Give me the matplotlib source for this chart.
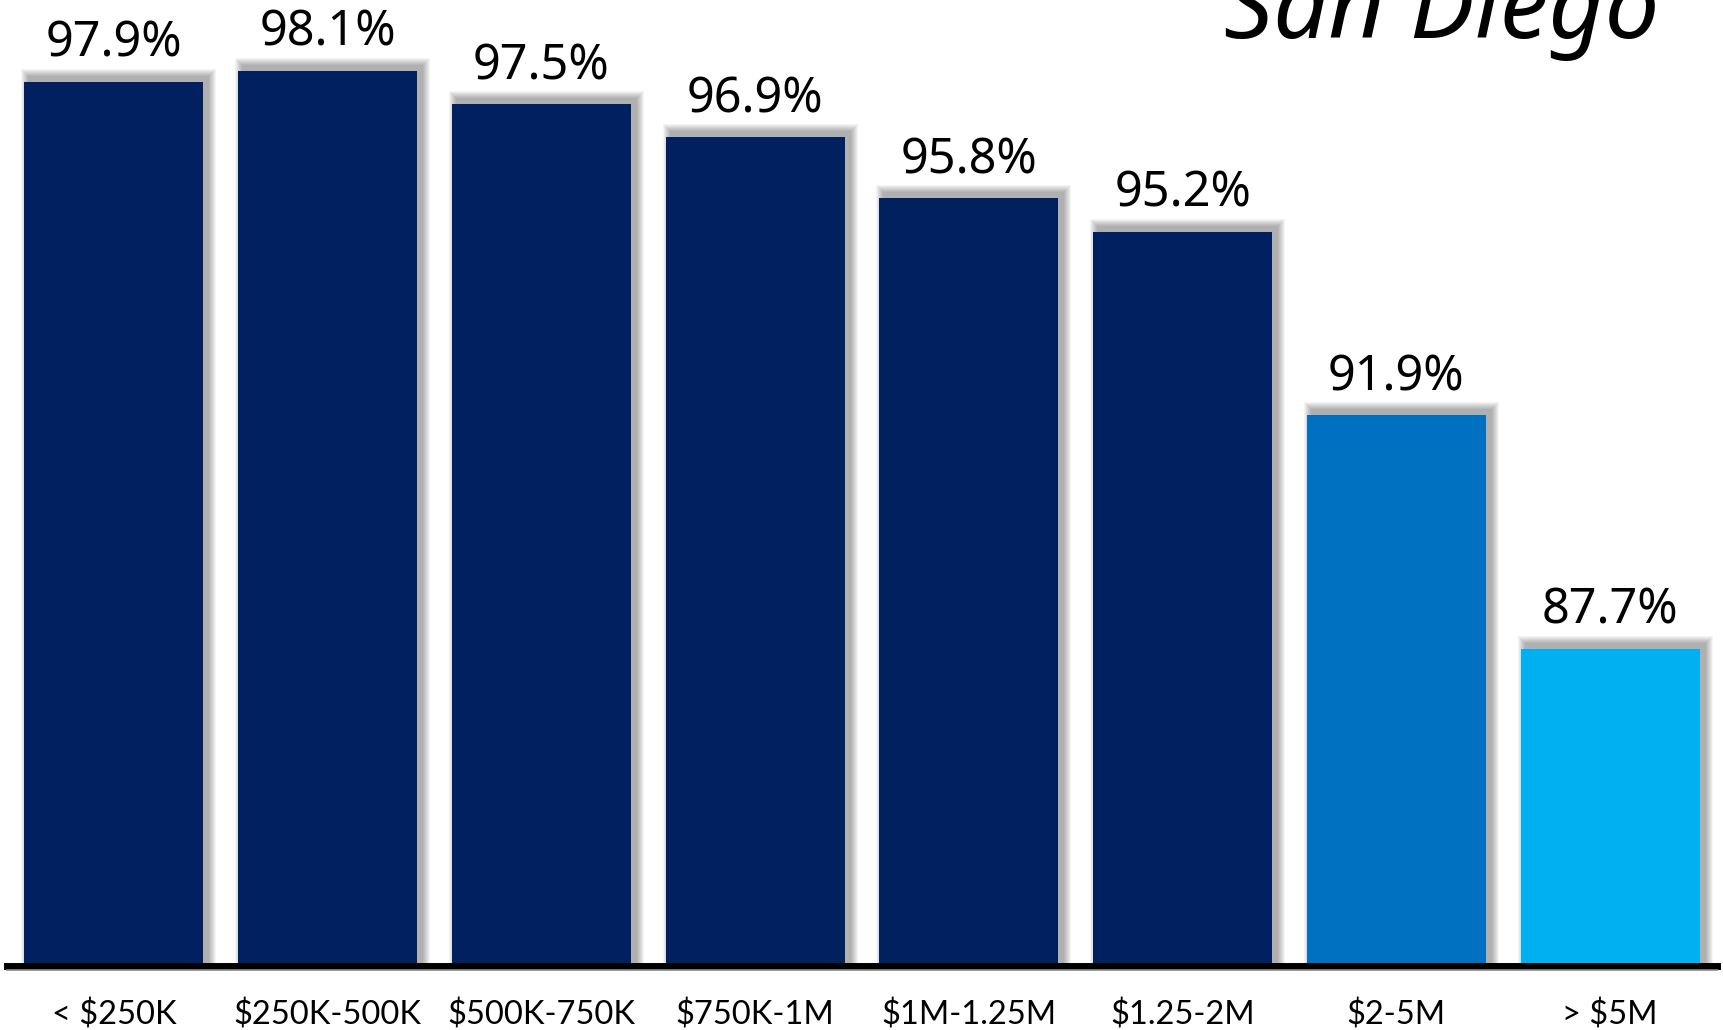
import matplotlib.pyplot as plt
from matplotlib.transforms import blended_transform_factory

categories = ['< $250K', '$250K-500K', '$500K-750K', '$750K-1M',
              '$1M-1.25M', '$1.25-2M', '$2-5M', '> $5M']
values = [97.9, 98.1, 97.5, 96.9, 95.8, 95.2, 91.9, 87.7]
colors = ['#002060'] * 6 + ['#0070C0', '#00B0F0']
title = 'San Diego'

W, H = 1723, 1030
fig = plt.figure(figsize=(W / 100, H / 100), dpi=100)

# axes placed so the black baseline sits at y~965 px
ax = fig.add_axes([7 / W, 1 - 965.5 / H, 1710 / W, 965.5 / H])
ymin = 82.0
px_per_pct = 55.58
ax.set_xlim(-0.5, 7.5)
ax.set_ylim(ymin, ymin + 965.5 / px_per_pct)

x = list(range(len(values)))
bw = 0.837
heights = [v - ymin for v in values]

# soft shadow: offset up/right, layered for blur
dx = 5 / 213.6
dy = 5 / px_per_pct
for i in range(8, 0, -1):
    ex = i / 213.6
    ey = i / px_per_pct
    ax.bar([xi + dx for xi in x], [h + dy + ey for h in heights], width=bw + 2 * ex,
           bottom=ymin, color='black', alpha=0.045, linewidth=0, zorder=1)

ax.bar(x, heights, width=bw, bottom=ymin, color=colors, linewidth=0, zorder=2)

for xi, v in zip(x, values):
    ax.annotate(f'{v}%', (xi, v), xytext=(0, 18), textcoords='offset points',
                ha='center', va='baseline', fontsize=35, family='Noto Sans',
                color='black', zorder=3)

for s in ['top', 'right', 'left']:
    ax.spines[s].set_visible(False)
ax.spines['bottom'].set_linewidth(5.0)
ax.spines['bottom'].set_color('black')
ax.spines['bottom'].set_zorder(4)
ax.set_yticks([])
ax.set_xticks([])

# thin grey line under the axis
fig.add_artist(plt.Line2D([7 / W, 1717 / W], [1 - 970 / H, 1 - 970 / H],
                          color='#8a8a8a', linewidth=1.2))

tr = blended_transform_factory(ax.transData, fig.transFigure)
for xi, c in zip(x, categories):
    ax.text(xi, 1 - 1015 / H, c, transform=tr, ha='center', va='center',
            fontsize=23.5, family='Lato', color='black', clip_on=False)

fig.text(1659 / W, 1 - 38 / H, title, ha='right', va='baseline', fontsize=70,
         family='Noto Sans', style='italic', color='black')

fig.savefig('out.png', dpi=100)
